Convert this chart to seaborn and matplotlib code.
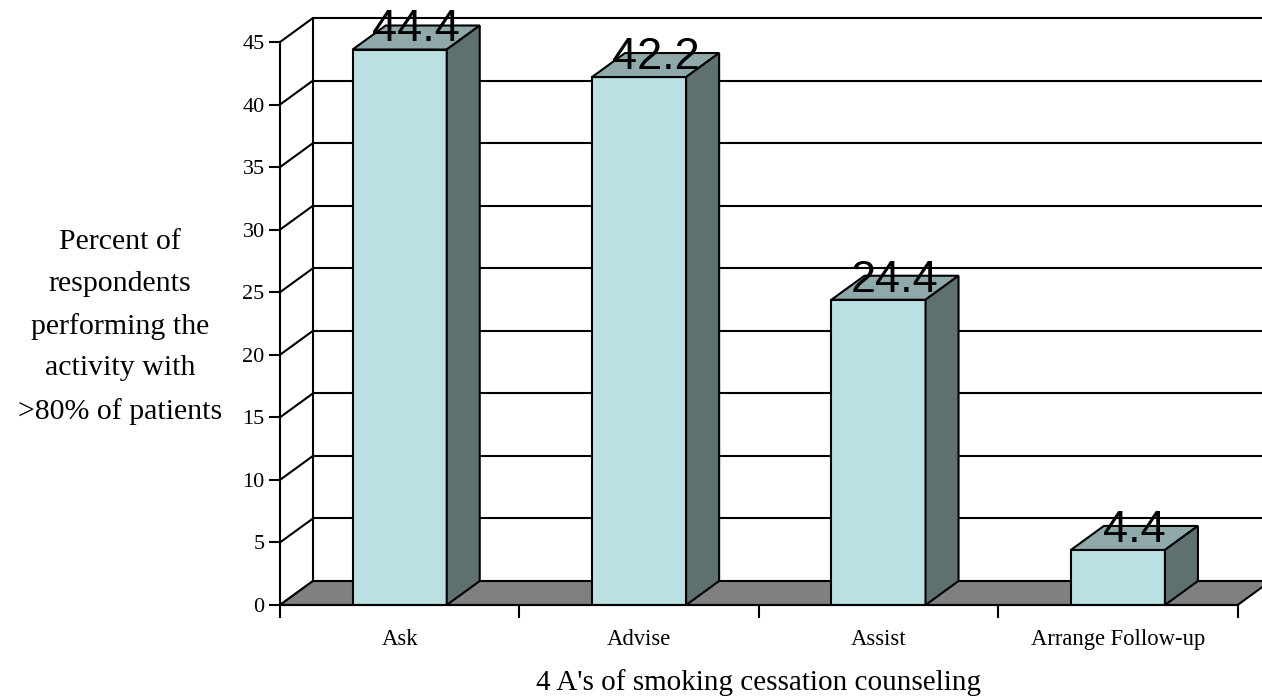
import matplotlib
matplotlib.use("Agg")
import matplotlib.pyplot as plt
from matplotlib.patches import Polygon
import pandas as pd
import seaborn as sns

# Data
categories = ["Ask", "Advise", "Assist", "Arrange Follow-up"]
percent = [44.4, 42.2, 24.4, 4.4]
y_ticks = [0, 5, 10, 15, 20, 25, 30, 35, 40, 45]
y_title = "Percent of\nrespondents\nperforming the\nactivity with\n>80% of patients"
x_title = "4 A's of smoking cessation counseling"

# Colours of the pseudo-3D boxes
FRONT = "#BBE0E3"
TOP = "#8FA9AB"
SIDE = "#5E7070"
FLOOR = "#808080"
LW = 1.5

sns.set_theme(style="white")
plt.rcParams["font.family"] = ["Liberation Serif", "DejaVu Serif"]

W, H = 1262, 698
fig = plt.figure(figsize=(W / 100, H / 100), dpi=100)
ax_left, ax_right, ax_bottom, ax_top = 280, 1237.6, 605, 42
ax = fig.add_axes([ax_left / W, 1 - ax_bottom / H,
                   (ax_right - ax_left) / W, (ax_bottom - ax_top) / H])
ax.patch.set_alpha(0)

df = pd.DataFrame({"activity": categories, "percent": percent})
sns.barplot(data=df, x="activity", y="percent", color=FRONT, saturation=1,
            width=0.393, edgecolor="black", linewidth=LW, errorbar=None,
            ax=ax, zorder=4)

n = len(categories)
ax.set_xlim(-0.5, n - 0.5)
ax.set_ylim(0, 45)

# depth offset of the 3D projection, in data units
DX = 33 / ((ax_right - ax_left) / n)
DY = 24 / ((ax_bottom - ax_top) / 45)

# back wall, side wall and floor
x_back0 = -0.5 + DX
x_back1 = n - 0.5 + DX + 0.2
for v in y_ticks:
    if v > 0:
        ax.plot([x_back0, x_back1], [v + DY, v + DY], color="black", lw=LW,
                clip_on=False, zorder=1, solid_capstyle="butt")
    ax.plot([-0.5, x_back0], [v, v + DY], color="black", lw=LW,
            clip_on=False, zorder=1)
ax.plot([x_back0, x_back0], [DY, 45 + DY], color="black", lw=LW,
        clip_on=False, zorder=1)
floor = Polygon([(-0.5, 0), (n - 0.5, 0), (n - 0.5 + DX, DY), (x_back0, DY)],
                closed=True, facecolor=FLOOR, edgecolor="black", lw=LW,
                clip_on=False, zorder=2)
ax.add_patch(floor)

# top and side faces of each bar, plus value labels
for p, val in zip(ax.patches[:n], percent):
    x0, w, h = p.get_x(), p.get_width(), p.get_height()
    top = Polygon([(x0, h), (x0 + w, h), (x0 + w + DX, h + DY), (x0 + DX, h + DY)],
                  closed=True, facecolor=TOP, edgecolor="black", lw=LW,
                  clip_on=False, zorder=4)
    side = Polygon([(x0 + w, 0), (x0 + w + DX, DY), (x0 + w + DX, h + DY), (x0 + w, h)],
                   closed=True, facecolor=SIDE, edgecolor="black", lw=LW,
                   clip_on=False, zorder=4)
    ax.add_patch(top)
    ax.add_patch(side)
    ax.text(x0 + w / 2 + DX / 2, val + 0.65, f"{val:.1f}", ha="center",
            va="baseline", fontsize=32.5, family=["Liberation Sans", "DejaVu Sans"],
            color="black", zorder=6, clip_on=False)

# axes styling
for s in ["top", "right"]:
    ax.spines[s].set_visible(False)
for s in ["left", "bottom"]:
    ax.spines[s].set_color("black")
    ax.spines[s].set_linewidth(LW)
    ax.spines[s].set_zorder(5)

ax.set_yticks(y_ticks)
ax.set_yticklabels([str(v) for v in y_ticks])
ax.tick_params(axis="y", left=True, direction="out", length=8, width=LW,
               color="black", labelsize=16, pad=3, labelcolor="black")
ax.set_xticks(range(n))
ax.set_xticklabels(categories)
ax.set_xticks([i - 0.5 for i in range(n + 1)], minor=True)
ax.tick_params(axis="x", which="major", bottom=False, length=0, labelsize=16.3,
               pad=17, labelcolor="black")
ax.tick_params(axis="x", which="minor", bottom=True, direction="out", length=9,
               width=LW, color="black")
ax.set_xlabel("")
ax.set_ylabel("")
ax.grid(False)

fig.text(120 / W, 1 - 327 / H, y_title, ha="center", va="center",
         fontsize=21.5, linespacing=1.77, color="black")
fig.text(758 / W, 1 - 690 / H, x_title, ha="center", va="baseline",
         fontsize=21, color="black")

fig.savefig("out.png", dpi=100, facecolor="white")
